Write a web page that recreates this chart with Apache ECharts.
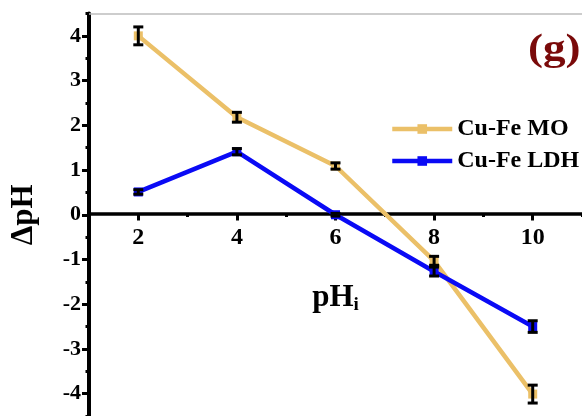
<!DOCTYPE html>
<html>
<head>
<meta charset="utf-8">
<script src="https://cdn.jsdelivr.net/npm/echarts@6/dist/echarts.min.js"></script>
<style>
html,body{margin:0;padding:0;background:#fff;}
#c{width:582px;height:416px;}
</style>
</head>
<body>
<div id="c"></div>
<script>
var phValues = [2, 4, 6, 8, 10];
var moValues = [4.0, 2.18, 1.09, -1.03, -4.01];
var moErrors = [0.2, 0.11, 0.07, 0.1, 0.2];
var ldhValues = [0.51, 1.41, 0.0, -1.27, -2.5];
var ldhErrors = [0.05, 0.07, 0.03, 0.1, 0.13];
var seriesNames = ['Cu-Fe MO', 'Cu-Fe LDH'];
var seriesColors = ['#EBC068', '#0A0AF5'];
var xMajorTicks = [2, 4, 6, 8, 10];
var xMinorTicks = [1, 3, 5, 7, 9, 11];
var yMajorTicks = [-4, -3, -2, -1, 0, 1, 2, 3, 4];
var yMinorTicks = [-4.5, -3.5, -2.5, -1.5, -0.5, 0.5, 1.5, 2.5, 3.5, 4.5];

var FONT = '"Liberation Serif", "Times New Roman", serif';

function pairs(xs, ys) { return xs.map(function (x, i) { return [x, ys[i]]; }); }
function errData(xs, ys, es) { return xs.map(function (x, i) { return [x, ys[i] - es[i], ys[i] + es[i]]; }); }

function errRender(params, api) {
  var x = api.value(0);
  var lo = api.coord([x, api.value(1)]);
  var hi = api.coord([x, api.value(2)]);
  var hw = 5;
  var st = { stroke: '#000', lineWidth: 3 };
  return {
    type: 'group',
    children: [
      { type: 'line', shape: { x1: lo[0], y1: lo[1], x2: hi[0], y2: hi[1] }, style: st },
      { type: 'line', shape: { x1: lo[0] - hw, y1: lo[1], x2: lo[0] + hw, y2: lo[1] }, style: st },
      { type: 'line', shape: { x1: hi[0] - hw, y1: hi[1], x2: hi[0] + hw, y2: hi[1] }, style: st }
    ]
  };
}

var GRID_TOP = 13.5, GRID_H = 405, Y_MIN = -4.5, Y_MAX = 4.5, X_MIN = 1, X_MAX = 11;
var zeroOffset = -GRID_H * (0 - Y_MIN) / (Y_MAX - Y_MIN);

var chart = echarts.init(document.getElementById('c'), null, { renderer: 'canvas' });
chart.setOption({
  animation: false,
  backgroundColor: '#fff',
  grid: { left: 82.5, top: GRID_TOP, width: 505, height: GRID_H, containLabel: false },
  legend: {
    orient: 'vertical',
    left: 390,
    top: 117,
    padding: 0,
    itemWidth: 60,
    itemHeight: 12,
    itemGap: 8,
    itemStyle: { borderWidth: 0 },
    lineStyle: { width: 4.5 },
    data: seriesNames,
    textStyle: { fontFamily: FONT, fontWeight: 'bold', fontSize: 24, color: '#000', lineHeight: 24 }
  },
  graphic: [
    { type: 'text', x: 528, y: 32, scaleX: 1.22, style: { text: '(g)', fontFamily: FONT, fontWeight: 'bold', fontSize: 37, fill: '#7A0A0A', textVerticalAlign: 'top' } }
  ],
  xAxis: [
    {
      type: 'value', min: X_MIN, max: X_MAX, position: 'bottom', offset: zeroOffset,
      axisLine: { onZero: false, lineStyle: { color: '#000', width: 3.5 } },
      axisTick: { show: true, inside: false, length: 7, customValues: xMajorTicks, lineStyle: { color: '#000', width: 3 } },
      splitLine: { show: false },
      axisLabel: {
        margin: 12, fontFamily: FONT, fontWeight: 'bold', fontSize: 24, color: '#000',
        customValues: xMajorTicks
      },
      name: '{a|pH}{b|i}', nameLocation: 'middle', nameGap: 68,
      nameTextStyle: {
        rich: {
          a: { fontFamily: FONT, fontWeight: 'bold', fontSize: 31, color: '#000' },
          b: { fontFamily: FONT, fontWeight: 'bold', fontSize: 19, color: '#000', padding: [14, 0, 0, 0] }
        }
      }
    },
    {
      type: 'value', min: X_MIN, max: X_MAX, position: 'bottom', offset: zeroOffset,
      axisLine: { show: false, onZero: false },
      axisTick: { show: true, inside: false, length: 3.5, customValues: xMinorTicks, lineStyle: { color: '#000', width: 3 } },
      axisLabel: { show: false }, splitLine: { show: false }
    },
    {
      type: 'value', position: 'top', min: X_MIN, max: X_MAX,
      axisLine: { onZero: false, lineStyle: { color: '#bdbdbd', width: 1.5 } },
      axisTick: { show: false }, axisLabel: { show: false }, splitLine: { show: false }
    }
  ],
  yAxis: [
    {
      type: 'value', min: Y_MIN, max: Y_MAX, position: 'left',
      axisLine: { show: true, onZero: false, lineStyle: { color: '#000', width: 4 } },
      axisTick: { show: true, length: 7, customValues: yMajorTicks, lineStyle: { color: '#000', width: 3 } },
      splitLine: { show: false },
      axisLabel: {
        margin: 8, fontFamily: FONT, fontWeight: 'bold', fontSize: 22, color: '#000',
        customValues: yMajorTicks
      },
      name: 'ΔpH', nameLocation: 'middle', nameGap: 50, nameRotate: 90,
      nameTextStyle: { fontFamily: FONT, fontWeight: 'bold', fontSize: 31, color: '#000' }
    },
    {
      type: 'value', min: Y_MIN, max: Y_MAX, position: 'left',
      axisLine: { show: false, onZero: false },
      axisTick: { show: true, length: 3.5, customValues: yMinorTicks, lineStyle: { color: '#000', width: 3 } },
      axisLabel: { show: false }, splitLine: { show: false }
    }
  ],
  series: [
    {
      name: seriesNames[0], type: 'line', data: pairs(phValues, moValues),
      symbol: 'rect', symbolSize: 9, itemStyle: { color: seriesColors[0] },
      lineStyle: { color: seriesColors[0], width: 4.5 }, z: 3
    },
    {
      name: seriesNames[1], type: 'line', data: pairs(phValues, ldhValues),
      symbol: 'rect', symbolSize: 9, itemStyle: { color: seriesColors[1] },
      lineStyle: { color: seriesColors[1], width: 4.5 }, z: 4
    },
    { type: 'custom', renderItem: errRender, data: errData(phValues, moValues, moErrors), z: 6, encode: { x: 0, y: [1, 2] } },
    { type: 'custom', renderItem: errRender, data: errData(phValues, ldhValues, ldhErrors), z: 6, encode: { x: 0, y: [1, 2] } }
  ]
});
</script>
</body>
</html>
